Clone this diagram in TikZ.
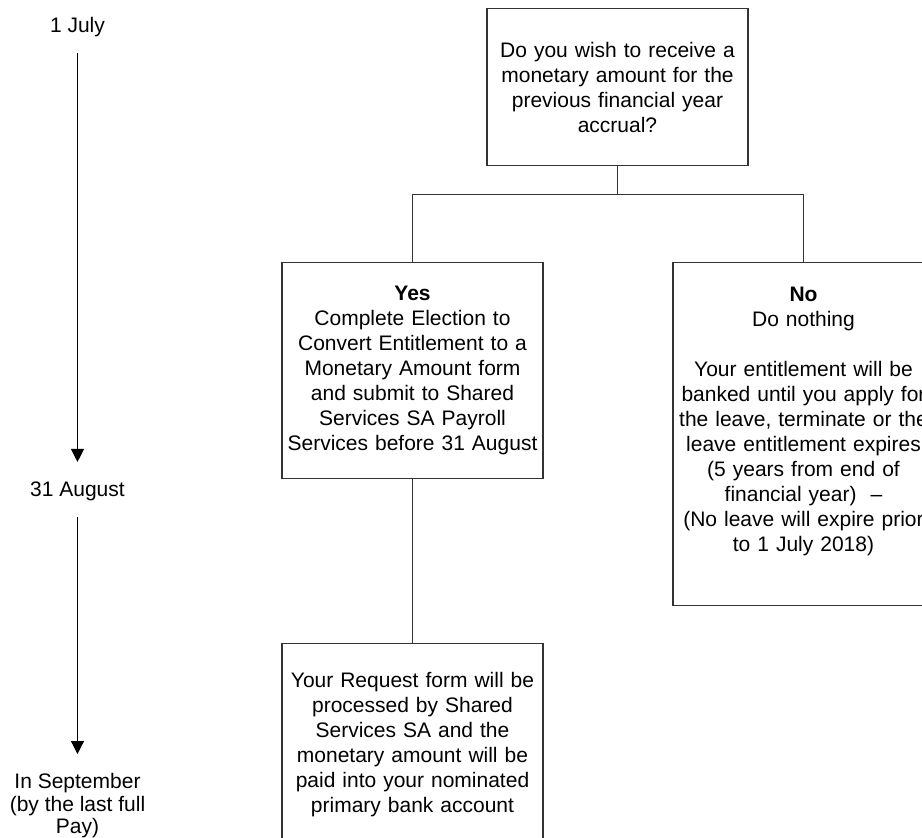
\documentclass[tikz,border=0pt]{standalone}
\usepackage{fontspec}
\setmainfont{Liberation Sans}
\usetikzlibrary{arrows.meta}

\begin{document}
    \begin{tikzpicture}[x=0.5pt,y=-0.5pt,
        box/.style={draw=black!80, line width=0.6pt, anchor=north, inner xsep=0pt, inner ysep=0pt, minimum width=130.5pt, text width=126pt, align=center, font=\fontsize{10.5pt}{12.5pt}\selectfont},
        date/.style={inner sep=0pt, align=center, font=\fontsize{10.5pt}{11.3pt}\selectfont},
        link/.style={draw=black!80, line width=0.6pt},
        timeline/.style={line width=0.6pt, -{Triangle[width=6.5pt,length=6.5pt]}, shorten <=8pt, shorten >=9.5pt}]
        \useasboundingbox (0,0) rectangle (922,837);
        \clip (0,0) rectangle (922,837);
        \node[date, anchor=base] (jul) at (77.5,32) {1 July};
        \node[date, anchor=base] (aug) at (77.5,496) {31 August};
        \node[date, anchor=north] (sep) at (77.5,773) {In September\\(by the last full\\Pay)};
        \draw[timeline] (jul) -- (aug);
        \draw[timeline] (aug) -- (sep);
        \node[box, text height=24.5pt, text depth=54pt] (ask) at (617.5,8) {Do you wish to receive a\\monetary amount for the\\previous financial year\\accrual?};
        \node[box, text height=19pt, text depth=89pt] (yes) at (412.5,262) {\textbf{Yes}\\Complete Election to\\Convert Entitlement to a\\Monetary Amount form\\and submit to Shared\\Services SA Payroll\\Services before 31 August};
        \node[box, text height=19.5pt, text depth=152pt] (no) at (803.5,262) {\textbf{No}\\Do nothing\\[12.5pt]Your entitlement will be\\banked until you apply for\\the leave, terminate or the\\leave entitlement expires\\(5 years from end of\\financial year)~ –\\(No leave will expire prior\\to 1 July 2018)};
        \node[box, text height=22pt, text depth=125pt] (req) at (412.5,643) {Your Request form will be\\processed by Shared\\Services SA and the\\monetary amount will be\\paid into your nominated\\primary bank account};
        \draw[link] (ask.south) -- ++(0,28) -| (yes.north);
        \draw[link] (ask.south) -- ++(0,28) -| (no.north);
        \draw[link] (yes.south) -- (req.north);
    \end{tikzpicture}
\end{document}
